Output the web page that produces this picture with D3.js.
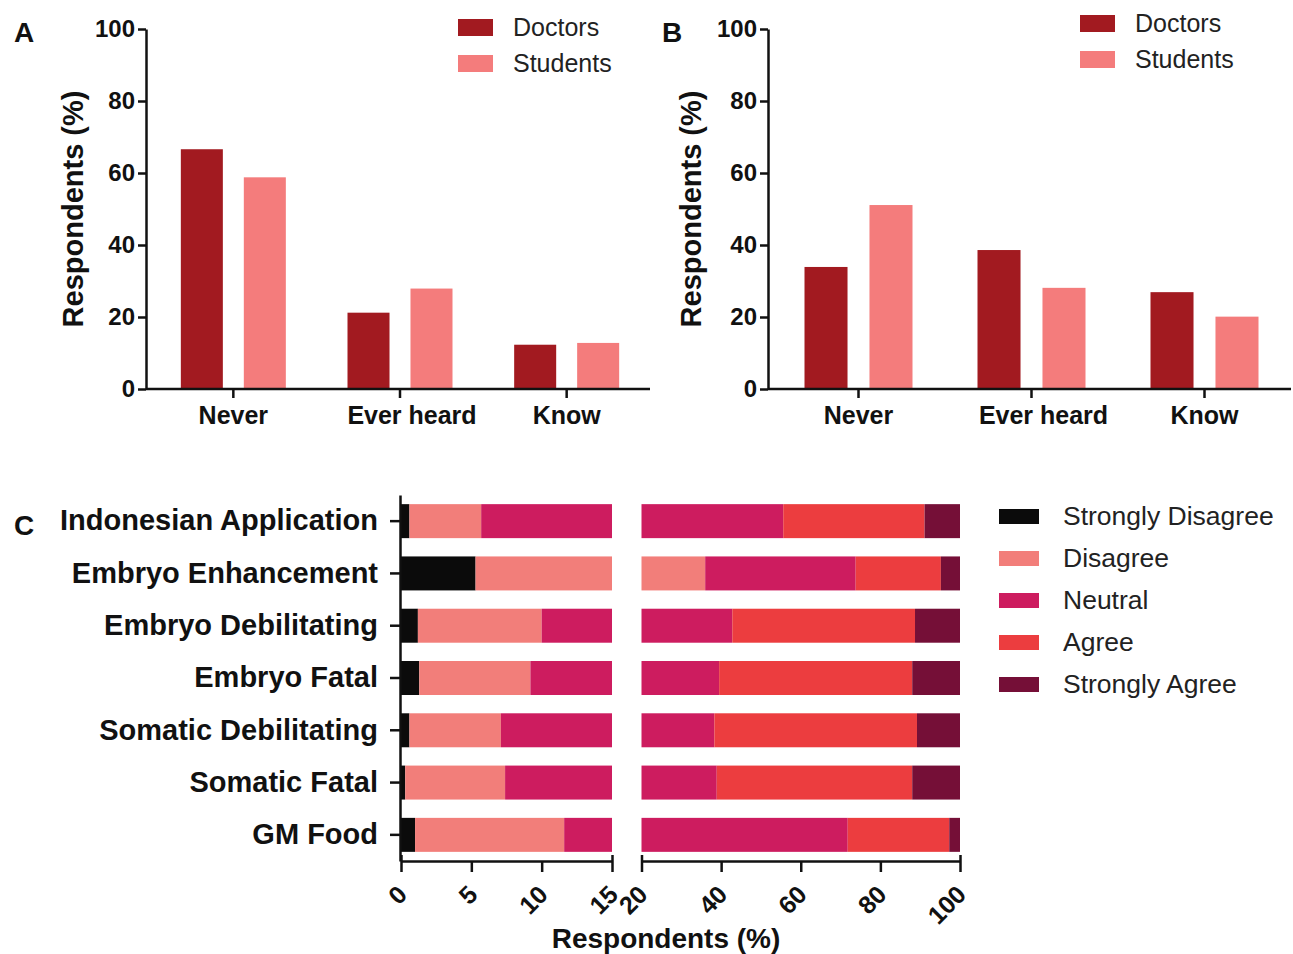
<!DOCTYPE html>
<html>
<head>
<meta charset="utf-8">
<script src="https://cdn.jsdelivr.net/npm/d3@7"></script>
<style>
  body { margin: 0; background: #fff; }
  svg { display: block; font-family: "Liberation Sans", Arial, sans-serif; }
  .axis path, .axis line { stroke: #111; stroke-width: 2.5; }
</style>
</head>
<body>
<svg id="fig" width="1293" height="954"></svg>
<script>
// panels A and B
const awareness = ['Never', 'Ever heard', 'Know'];
const groups = ['Doctors', 'Students'];
const doctorsA = [66.6, 21.2, 12.3];
const studentsA = [58.8, 27.9, 12.8];
const doctorsB = [33.9, 38.6, 26.9];
const studentsB = [51.1, 28.1, 20.1];
const yTicks = [0, 20, 40, 60, 80, 100];

// panel C
const questions = ['Indonesian Application', 'Embryo Enhancement', 'Embryo Debilitating',
  'Embryo Fatal', 'Somatic Debilitating', 'Somatic Fatal', 'GM Food'];
const levels = ['Strongly Disagree', 'Disagree', 'Neutral', 'Agree', 'Strongly Agree'];
const strDisagree = [0.6, 5.3, 1.2, 1.3, 0.6, 0.3, 1.0];
const disagree = [5.1, 30.7, 8.8, 7.9, 6.5, 7.1, 10.6];
const neutral = [49.9, 37.8, 32.8, 30.3, 31.2, 31.5, 60.2];
const agree = [35.5, 21.4, 45.9, 48.5, 50.9, 49.1, 25.5];
const strAgree = [8.9, 4.8, 11.3, 12.0, 10.8, 12.0, 2.7];
const leftTicksC = [0, 5, 10, 15];
const rightTicksC = [20, 40, 60, 80, 100];

const groupColor = d3.scaleOrdinal().domain(groups).range(['#a21a20', '#f47c7c']);
const levelColor = d3.scaleOrdinal().domain(levels)
  .range(['#0b0b0b', '#f27e7a', '#cd1c5f', '#ec3d3f', '#750f37']);

const svg = d3.select('#fig');

function panelLetter(t, x, y) {
  svg.append('text').attr('x', x).attr('y', y)
    .attr('font-size', 28).attr('font-weight', 'bold').attr('fill', '#111').text(t);
}

function groupedBars(doctors, students, opt) {
  const rows = awareness.map((a, i) => ({ cat: a, Doctors: doctors[i], Students: students[i] }));
  const x0 = d3.scaleBand().domain(awareness).range([opt.left + 4, opt.right]);
  const half = opt.groupW / 2;
  const x1 = d3.scaleBand().domain(groups)
    .range([x0.bandwidth() / 2 - half, x0.bandwidth() / 2 + half])
    .paddingInner(opt.gap);
  const y = d3.scaleLinear().domain([0, 100]).range([389, 29]);

  const g = svg.append('g');
  g.selectAll('.grp')
    .data(rows)
    .enter().append('g')
    .attr('transform', d => 'translate(' + x0(d.cat) + ',0)')
    .selectAll('rect')
    .data(d => groups.map(k => ({ key: k, value: d[k] })))
    .enter().append('rect')
    .attr('x', d => x1(d.key))
    .attr('y', d => y(d.value))
    .attr('width', x1.bandwidth())
    .attr('height', d => y(0) - y(d.value))
    .attr('fill', d => groupColor(d.key));

  const ya = g.append('g')
    .attr('class', 'axis')
    .attr('transform', 'translate(' + opt.left + ',0)')
    .call(d3.axisLeft(y).tickValues(yTicks).tickSize(8).tickPadding(3).tickSizeOuter(0));
  ya.selectAll('text').attr('font-size', 24).attr('font-weight', 'bold').attr('fill', '#111');

  const xa = g.append('g')
    .attr('class', 'axis')
    .attr('transform', 'translate(0,389)')
    .call(d3.axisBottom(x0).tickSize(9).tickPadding(8).tickSizeOuter(0));
  xa.select('.domain').attr('d', 'M' + opt.left + ',0H' + opt.right);
  xa.selectAll('text').attr('font-size', 25).attr('font-weight', 'bold').attr('fill', '#111')
    .attr('dx', d => d === 'Ever heard' ? 12 : 0);

  g.append('text')
    .attr('transform', 'translate(' + opt.labelX + ',209) rotate(-90)')
    .attr('text-anchor', 'middle')
    .attr('font-size', 29).attr('font-weight', 'bold').attr('fill', '#111')
    .text('Respondents (%)');

  const lg = g.selectAll('.leg')
    .data(groups)
    .enter().append('g')
    .attr('transform', (d, i) => 'translate(' + opt.legX + ',' + (opt.legY + i * 36) + ')');
  lg.append('rect').attr('width', 35).attr('height', 17).attr('fill', d => groupColor(d));
  lg.append('text').attr('x', 55).attr('y', 17)
    .attr('font-size', 25).attr('fill', '#222').text(d => d);
}

panelLetter('A', 14, 42);
groupedBars(doctorsA, studentsA, { left: 146, right: 650, groupW: 105, gap: 0.333, labelX: 83, legX: 458, legY: 19 });
panelLetter('B', 662, 42);
groupedBars(doctorsB, studentsB, { left: 768, right: 1291, groupW: 108, gap: 0.338, labelX: 701, legX: 1080, legY: 15 });

// panel C: stacked bars on a broken axis
panelLetter('C', 14, 535);
const rowsC = questions.map((q, i) => ({
  q: q,
  'Strongly Disagree': strDisagree[i],
  'Disagree': disagree[i],
  'Neutral': neutral[i],
  'Agree': agree[i],
  'Strongly Agree': strAgree[i]
}));
const series = d3.stack().keys(levels)(rowsC);

const yC = d3.scaleBand().domain(questions).range([495, 861]).paddingInner(0.35).paddingOuter(0.175);
const xL = d3.scaleLinear().domain([0, 15]).range([401, 612]);
const xR = d3.scaleLinear().domain([20, 100]).range([641.5, 960]);

const gc = svg.append('g');
series.forEach(s => {
  s.forEach(d => {
    const a = d[0], b = d[1], q = d.data.q;
    if (a < 15 && b > a) {
      gc.append('rect')
        .attr('x', xL(Math.max(a, 0)))
        .attr('y', yC(q))
        .attr('width', xL(Math.min(b, 15)) - xL(Math.max(a, 0)))
        .attr('height', yC.bandwidth())
        .attr('fill', levelColor(s.key));
    }
    if (b > 20 && b > a) {
      gc.append('rect')
        .attr('x', xR(Math.max(a, 20)))
        .attr('y', yC(q))
        .attr('width', xR(Math.min(b, 100)) - xR(Math.max(a, 20)))
        .attr('height', yC.bandwidth())
        .attr('fill', levelColor(s.key));
    }
  });
});

const yAxC = gc.append('g')
  .attr('class', 'axis')
  .attr('transform', 'translate(400,0)')
  .call(d3.axisLeft(yC).tickSize(10).tickPadding(12).tickSizeOuter(0));
yAxC.selectAll('text').attr('font-size', 29).attr('font-weight', 'bold').attr('fill', '#111');

function brokenAxis(scale, ticks) {
  const ax = gc.append('g')
    .attr('class', 'axis')
    .attr('transform', 'translate(0,861)')
    .call(d3.axisBottom(scale).tickValues(ticks).tickSize(11).tickSizeOuter(0));
  ax.selectAll('.tick line')
    .filter(d => d === ticks[0] || d === ticks[ticks.length - 1])
    .attr('y1', -6);
  ax.selectAll('.tick text')
    .attr('y', 0).attr('dy', '0.35em')
    .attr('text-anchor', 'end')
    .attr('transform', 'translate(1,29) rotate(-45)')
    .attr('font-size', 25).attr('font-weight', 'bold').attr('fill', '#111');
}
brokenAxis(xL, leftTicksC);
brokenAxis(xR, rightTicksC);

gc.append('text')
  .attr('x', 666).attr('y', 948)
  .attr('text-anchor', 'middle')
  .attr('font-size', 28).attr('font-weight', 'bold').attr('fill', '#111')
  .text('Respondents (%)');

const lc = gc.selectAll('.legc')
  .data(levels)
  .enter().append('g')
  .attr('transform', (d, i) => 'translate(999,' + (509 + i * 42) + ')');
lc.append('rect').attr('width', 40).attr('height', 15).attr('fill', d => levelColor(d));
lc.append('text').attr('x', 64).attr('y', 16)
  .attr('font-size', 26.5).attr('fill', '#222').text(d => d);
</script>
</body>
</html>
